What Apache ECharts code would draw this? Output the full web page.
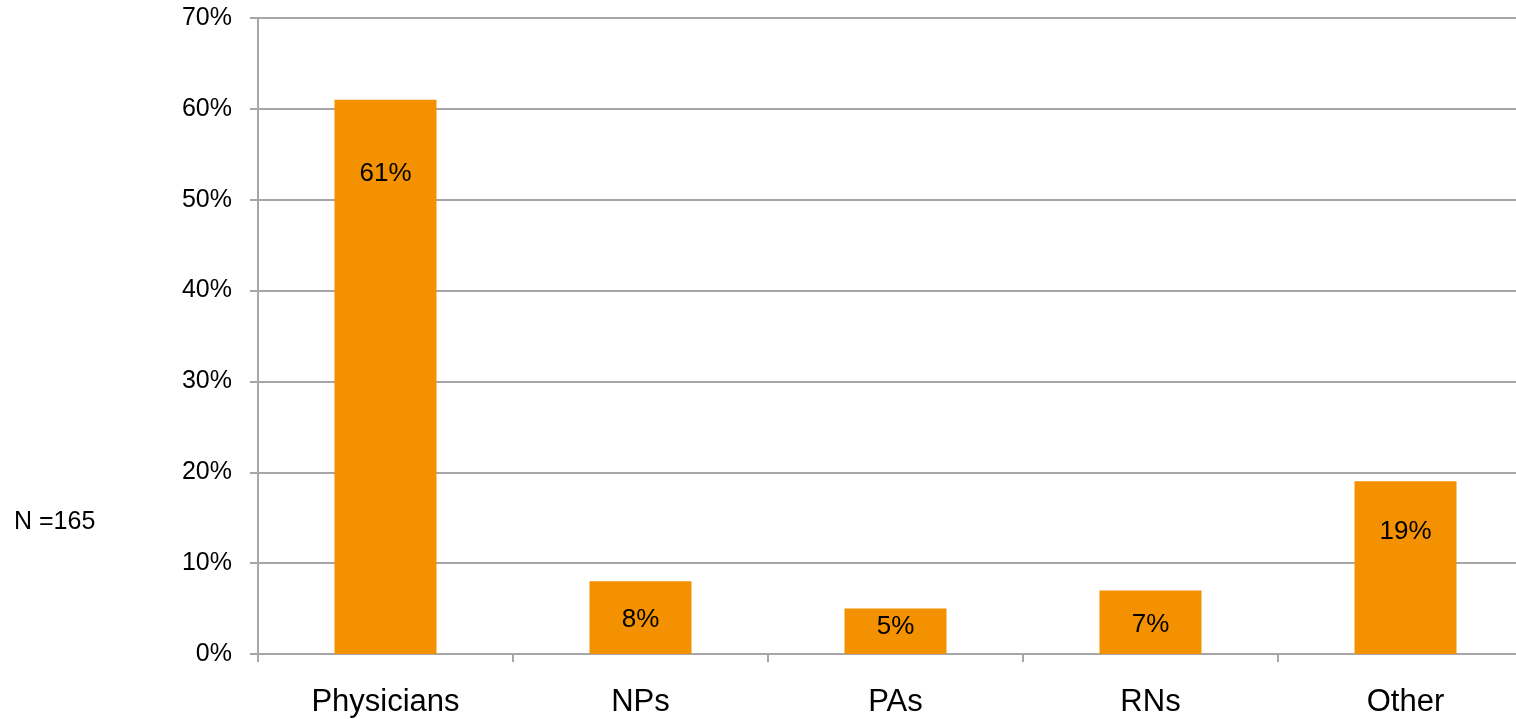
<!DOCTYPE html>
<html>
<head>
<meta charset="utf-8">
<script src="https://cdn.jsdelivr.net/npm/echarts@6/dist/echarts.min.js"></script>
<style>
  html, body { margin: 0; padding: 0; background: #fff; }
  #chart { width: 1516px; height: 719px; }
</style>
</head>
<body>
<div id="chart"></div>
<script>
// Respondent roles and their share of the sample (percent)
var categories = ['Physicians', 'NPs', 'PAs', 'RNs', 'Other'];
var shares = [61, 8, 5, 7, 19];
var sampleNote = 'N =165';
var yTicks = { min: 0, max: 70, step: 10 };

// how far below each bar's top its value label sits (px)
var labelDrop = [61, 26, 5, 21, 37];

var chart = echarts.init(document.getElementById('chart'));
var font = 'Liberation Sans, Arial, sans-serif';

chart.setOption({
  animation: false,
  // the last category band runs slightly past the right edge of the page
  grid: { left: 258, width: 1275, top: 18, bottom: 65, outerBoundsMode: 'none' },
  graphic: [{
    type: 'text',
    left: 14, top: 510,
    style: { text: sampleNote, font: '25px ' + font, fill: '#000' }
  }],
  xAxis: {
    type: 'category',
    data: categories,
    axisLine: { lineStyle: { color: '#a6a6a6', width: 2 } },
    axisTick: { show: true, length: 8, lineStyle: { color: '#a6a6a6', width: 2 } },
    axisLabel: { color: '#000', fontFamily: font, fontSize: 31, margin: 33 }
  },
  yAxis: {
    type: 'value',
    min: yTicks.min, max: yTicks.max, interval: yTicks.step,
    axisLine: { show: true, lineStyle: { color: '#a6a6a6', width: 2 } },
    axisTick: { show: true, length: 8, lineStyle: { color: '#a6a6a6', width: 2 } },
    splitLine: { lineStyle: { color: '#a6a6a6', width: 2 } },
    axisLabel: { color: '#000', fontFamily: font, fontSize: 25, margin: 26,
      formatter: function (v) { return v + '%'; } }
  },
  series: [{
    type: 'bar',
    barWidth: 102,
    data: shares.map(function (v, i) {
      return {
        value: v,
        label: { distance: labelDrop[i] }
      };
    }),
    itemStyle: { color: '#f49100' },
    label: {
      show: true,
      position: 'insideTop',
      color: '#000',
      fontFamily: font,
      fontSize: 26,
      formatter: '{c}%'
    }
  }]
});
</script>
</body>
</html>
